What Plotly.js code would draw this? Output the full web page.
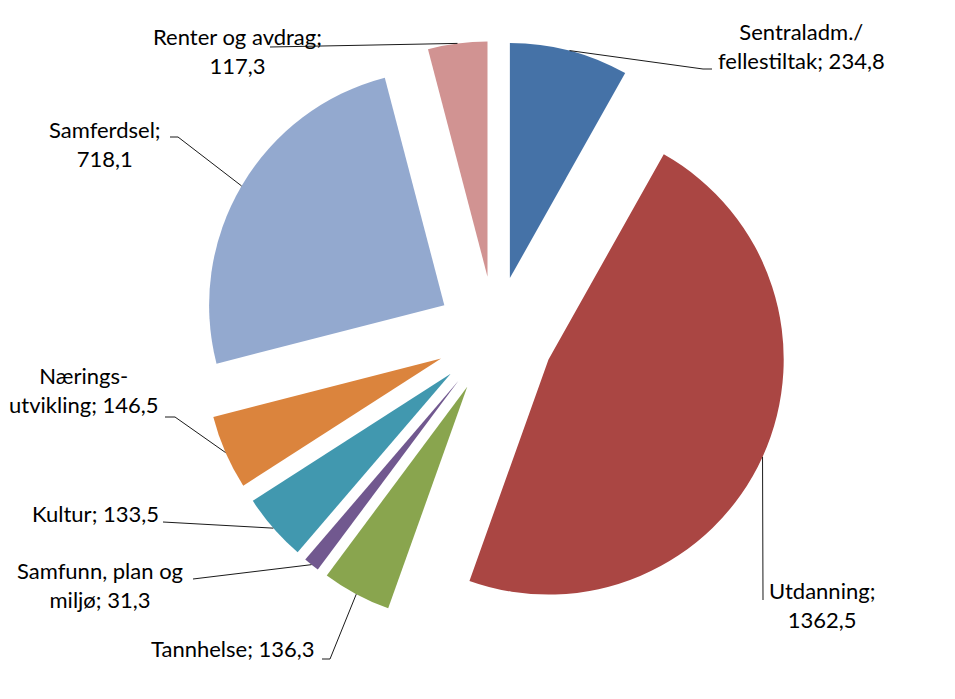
<!DOCTYPE html>
<html><head><meta charset="utf-8">
<script src="https://cdn.plot.ly/plotly-3.0.1.min.js"></script>
<style>html,body{margin:0;padding:0;background:#fff}</style>
</head><body><div id="chart" style="width:955px;height:699px"></div>
<script>
// ---- data ----
const categories = ["Sentraladm./ fellestiltak", "Utdanning", "Tannhelse", "Samfunn, plan og miljø", "Kultur", "Nærings-utvikling", "Samferdsel", "Renter og avdrag"];
const values = [234.8, 1362.5, 136.3, 31.3, 133.5, 146.5, 718.1, 117.3];
const colors = ["#4572A7", "#AA4643", "#89A54E", "#71588F", "#4198AF", "#DB843D", "#93A9CF", "#D19392"];
// label text as wrapped in the chart ({v} = value)
const labelTemplates = ["Sentraladm./<br>fellestiltak; {v}", "Utdanning;<br>{v}", "Tannhelse; {v}", "Samfunn, plan og<br>miljø; {v}", "Kultur; {v}", "Nærings-<br>utvikling; {v}", "Samferdsel;<br>{v}", "Renter og avdrag;<br>{v}"];

// ---- layout (pixel positions of label centres and leader-line ends) ----
const W = 955, H = 699;
const labelPos = [[801, 46], [822, 605], [233, 648], [100, 585], [95, 513], [84, 390], [105, 144], [237, 51]];
const leaderEnd = [[[703, 69], [712, 69]], [[763, 600]], [[330, 659], [322, 659]], [[193, 579]], [[163, 522]], [[175, 417], [165, 417]], [[178, 137], [170, 137]], [[270, 47]]];
const pullAmt = 0.25;

const fmt = v => v.toFixed(1).replace('.', ',');
const px2x = p => p / W, py2y = p => 1 - p / H;

const trace = {
  type: 'pie', labels: categories, values: values, sort: false,
  direction: 'clockwise', rotation: 0,
  marker: {colors: colors, line: {width: 0}},
  pull: values.map(() => pullAmt),
  textinfo: 'none', hoverinfo: 'label+value',
  domain: {x: [201 / W, 789 / W], y: [1 - 629 / H, 1 - 41 / H]},
  showlegend: false
};
const annotations = categories.map((c, i) => ({
  xref: 'paper', yref: 'paper', x: px2x(labelPos[i][0]), y: py2y(labelPos[i][1]),
  xanchor: 'center', yanchor: 'middle', align: 'center', showarrow: false,
  text: labelTemplates[i].replace('{v}', fmt(values[i])),
  font: {family: 'Lato, "Open Sans", sans-serif', size: 22, color: '#000'}
}));
const layout = {
  width: W, height: H, margin: {l: 0, r: 0, t: 0, b: 0},
  paper_bgcolor: '#fff', plot_bgcolor: '#fff', annotations: annotations, showlegend: false
};
const gd = document.getElementById('chart');
Plotly.newPlot(gd, [trace], layout, {displayModeBar: false, staticPlot: true}).then(() => {
  const cd = gd.calcdata[0];
  const cx = cd[0].cx, cy = cd[0].cy;
  const shapes = cd.map((pt, i) => {
    const ax = cx + pt.pxmid[0] * (1 + pullAmt), ay = cy + pt.pxmid[1] * (1 + pullAmt);
    let path = 'M' + px2x(ax) + ',' + py2y(ay);
    leaderEnd[i].forEach(p => { path += ' L' + px2x(p[0]) + ',' + py2y(p[1]); });
    return {type: 'path', xref: 'paper', yref: 'paper', path: path, line: {color: '#1a1a1a', width: 1}};
  });
  return Plotly.relayout(gd, {shapes: shapes});
});
</script></body></html>
